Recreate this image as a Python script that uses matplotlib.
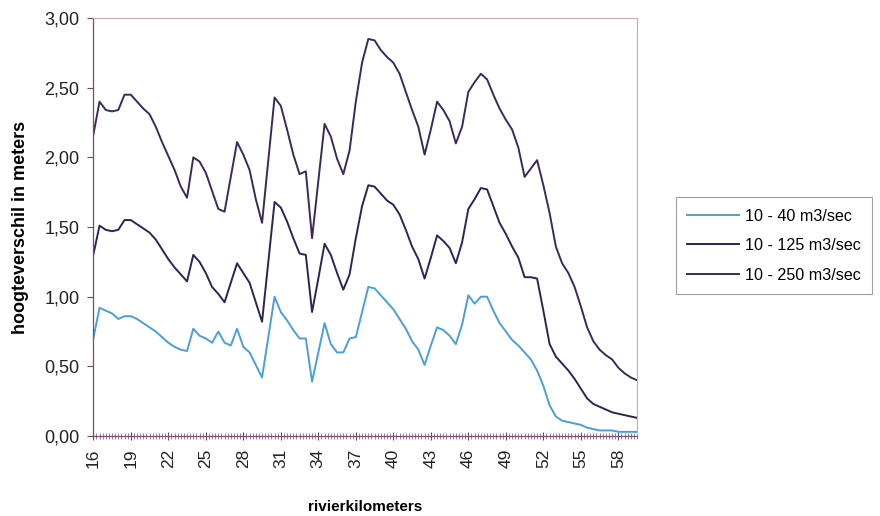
import numpy as np
import matplotlib
matplotlib.use("Agg")
import matplotlib.pyplot as plt
from matplotlib.ticker import FixedLocator, MultipleLocator, FuncFormatter

plt.rcParams['font.family'] = ['Liberation Sans', 'DejaVu Sans']

# river kilometre, every half km
km = np.arange(16.0, 60.0, 0.5)

# height difference (m) per discharge range
q_40 = [0.70, 0.92, 0.90, 0.88, 0.84, 0.86, 0.86, 0.84,
        0.81, 0.78, 0.75, 0.71, 0.67, 0.64, 0.62, 0.61,
        0.77, 0.72, 0.70, 0.67, 0.75, 0.67, 0.65, 0.77,
        0.64, 0.60, 0.51, 0.42, 0.71, 1.00, 0.89, 0.83,
        0.76, 0.70, 0.70, 0.39, 0.60, 0.81, 0.66, 0.60,
        0.60, 0.70, 0.71, 0.89, 1.07, 1.06, 1.01, 0.96,
        0.91, 0.84, 0.77, 0.68, 0.62, 0.51, 0.65, 0.78,
        0.76, 0.72, 0.66, 0.80, 1.01, 0.95, 1.00, 1.00,
        0.90, 0.81, 0.75, 0.69, 0.65, 0.60, 0.55, 0.47,
        0.36, 0.22, 0.14, 0.11, 0.10, 0.09, 0.08, 0.06,
        0.05, 0.04, 0.04, 0.04, 0.03, 0.03, 0.03, 0.03]

q_125 = [1.30, 1.51, 1.48, 1.47, 1.48, 1.55, 1.55, 1.52,
         1.49, 1.46, 1.41, 1.34, 1.27, 1.21, 1.16, 1.11,
         1.30, 1.25, 1.17, 1.07, 1.02, 0.96, 1.10, 1.24,
         1.17, 1.10, 0.96, 0.82, 1.25, 1.68, 1.64, 1.54,
         1.42, 1.31, 1.30, 0.89, 1.13, 1.38, 1.30, 1.17,
         1.05, 1.16, 1.42, 1.65, 1.80, 1.79, 1.74, 1.69,
         1.66, 1.59, 1.48, 1.36, 1.27, 1.13, 1.28, 1.44,
         1.40, 1.35, 1.24, 1.39, 1.63, 1.70, 1.78, 1.77,
         1.65, 1.53, 1.45, 1.36, 1.28, 1.14, 1.14, 1.13,
         0.90, 0.66, 0.57, 0.52, 0.47, 0.41, 0.34, 0.27,
         0.23, 0.21, 0.19, 0.17, 0.16, 0.15, 0.14, 0.13]

q_250 = [2.16, 2.40, 2.34, 2.33, 2.34, 2.45, 2.45, 2.40,
         2.35, 2.31, 2.22, 2.11, 2.01, 1.91, 1.79, 1.71,
         2.00, 1.97, 1.89, 1.76, 1.63, 1.61, 1.86, 2.11,
         2.02, 1.91, 1.70, 1.53, 1.98, 2.43, 2.37, 2.20,
         2.02, 1.88, 1.90, 1.42, 1.83, 2.24, 2.15, 1.99,
         1.88, 2.05, 2.40, 2.68, 2.85, 2.84, 2.77, 2.72,
         2.68, 2.60, 2.47, 2.34, 2.22, 2.02, 2.20, 2.40,
         2.34, 2.26, 2.10, 2.22, 2.47, 2.54, 2.60, 2.56,
         2.45, 2.35, 2.27, 2.20, 2.07, 1.86, 1.92, 1.98,
         1.80, 1.60, 1.36, 1.24, 1.17, 1.07, 0.93, 0.78,
         0.68, 0.62, 0.58, 0.55, 0.49, 0.45, 0.42, 0.40]

labels = ['10 - 40 m3/sec', '10 - 125 m3/sec', '10 - 250 m3/sec']
colours = ['#4a9fd8', '#2b2557', '#3a2a5c']
x_ticks = list(range(16, 59, 3))
y_ticks = [0.0, 0.5, 1.0, 1.5, 2.0, 2.5, 3.0]

fig = plt.figure(figsize=(8.8, 5.16), dpi=100)
ax = fig.add_axes([0.106, 0.155, 0.618, 0.810])

for series, lab, col in zip([q_40, q_125, q_250], labels, colours):
    ax.plot(km, series, color=col, lw=1.4, label=lab)

ax.set_xlim(km[0], km[-1])
ax.set_ylim(0, 3.0)

ax.xaxis.set_major_locator(FixedLocator(x_ticks))
ax.xaxis.set_minor_locator(MultipleLocator(0.25))
ax.set_yticks(y_ticks)
ax.yaxis.set_major_formatter(FuncFormatter(lambda v, p: f'{v:.2f}'.replace('.', ',')))

ax.tick_params(axis='x', which='major', direction='inout', length=6, width=0.8,
               color='#6a4a66', labelsize=12.5, labelrotation=90, pad=6, labelcolor='#222222')
ax.tick_params(axis='x', which='minor', direction='inout', length=5, width=0.6,
               color='#8a6a86')
ax.tick_params(axis='y', direction='out', length=4, width=0.8, color='#6a4a66',
               labelsize=13, pad=6, labelcolor='#222222')

for side in ['top', 'right']:
    ax.spines[side].set_color('#c8a8c0')
    ax.spines[side].set_linewidth(0.8)
for side in ['left', 'bottom']:
    ax.spines[side].set_color('#7a4a70')
    ax.spines[side].set_linewidth(0.9)

ax.set_ylabel('hoogteverschil in meters', fontsize=13, fontweight='bold', labelpad=11)
ax.set_xlabel('rivierkilometers', fontsize=11, fontweight='bold', labelpad=23)

leg = fig.legend(loc='center', bbox_to_anchor=(0.8795, 0.524), fontsize=11.6,
                 frameon=True, fancybox=False, handlelength=3.2, labelspacing=0.9,
                 borderpad=0.7, handletextpad=0.4)
leg.get_frame().set_edgecolor('#888888')
leg.get_frame().set_linewidth(0.8)

fig.savefig('out.png', dpi=100)
